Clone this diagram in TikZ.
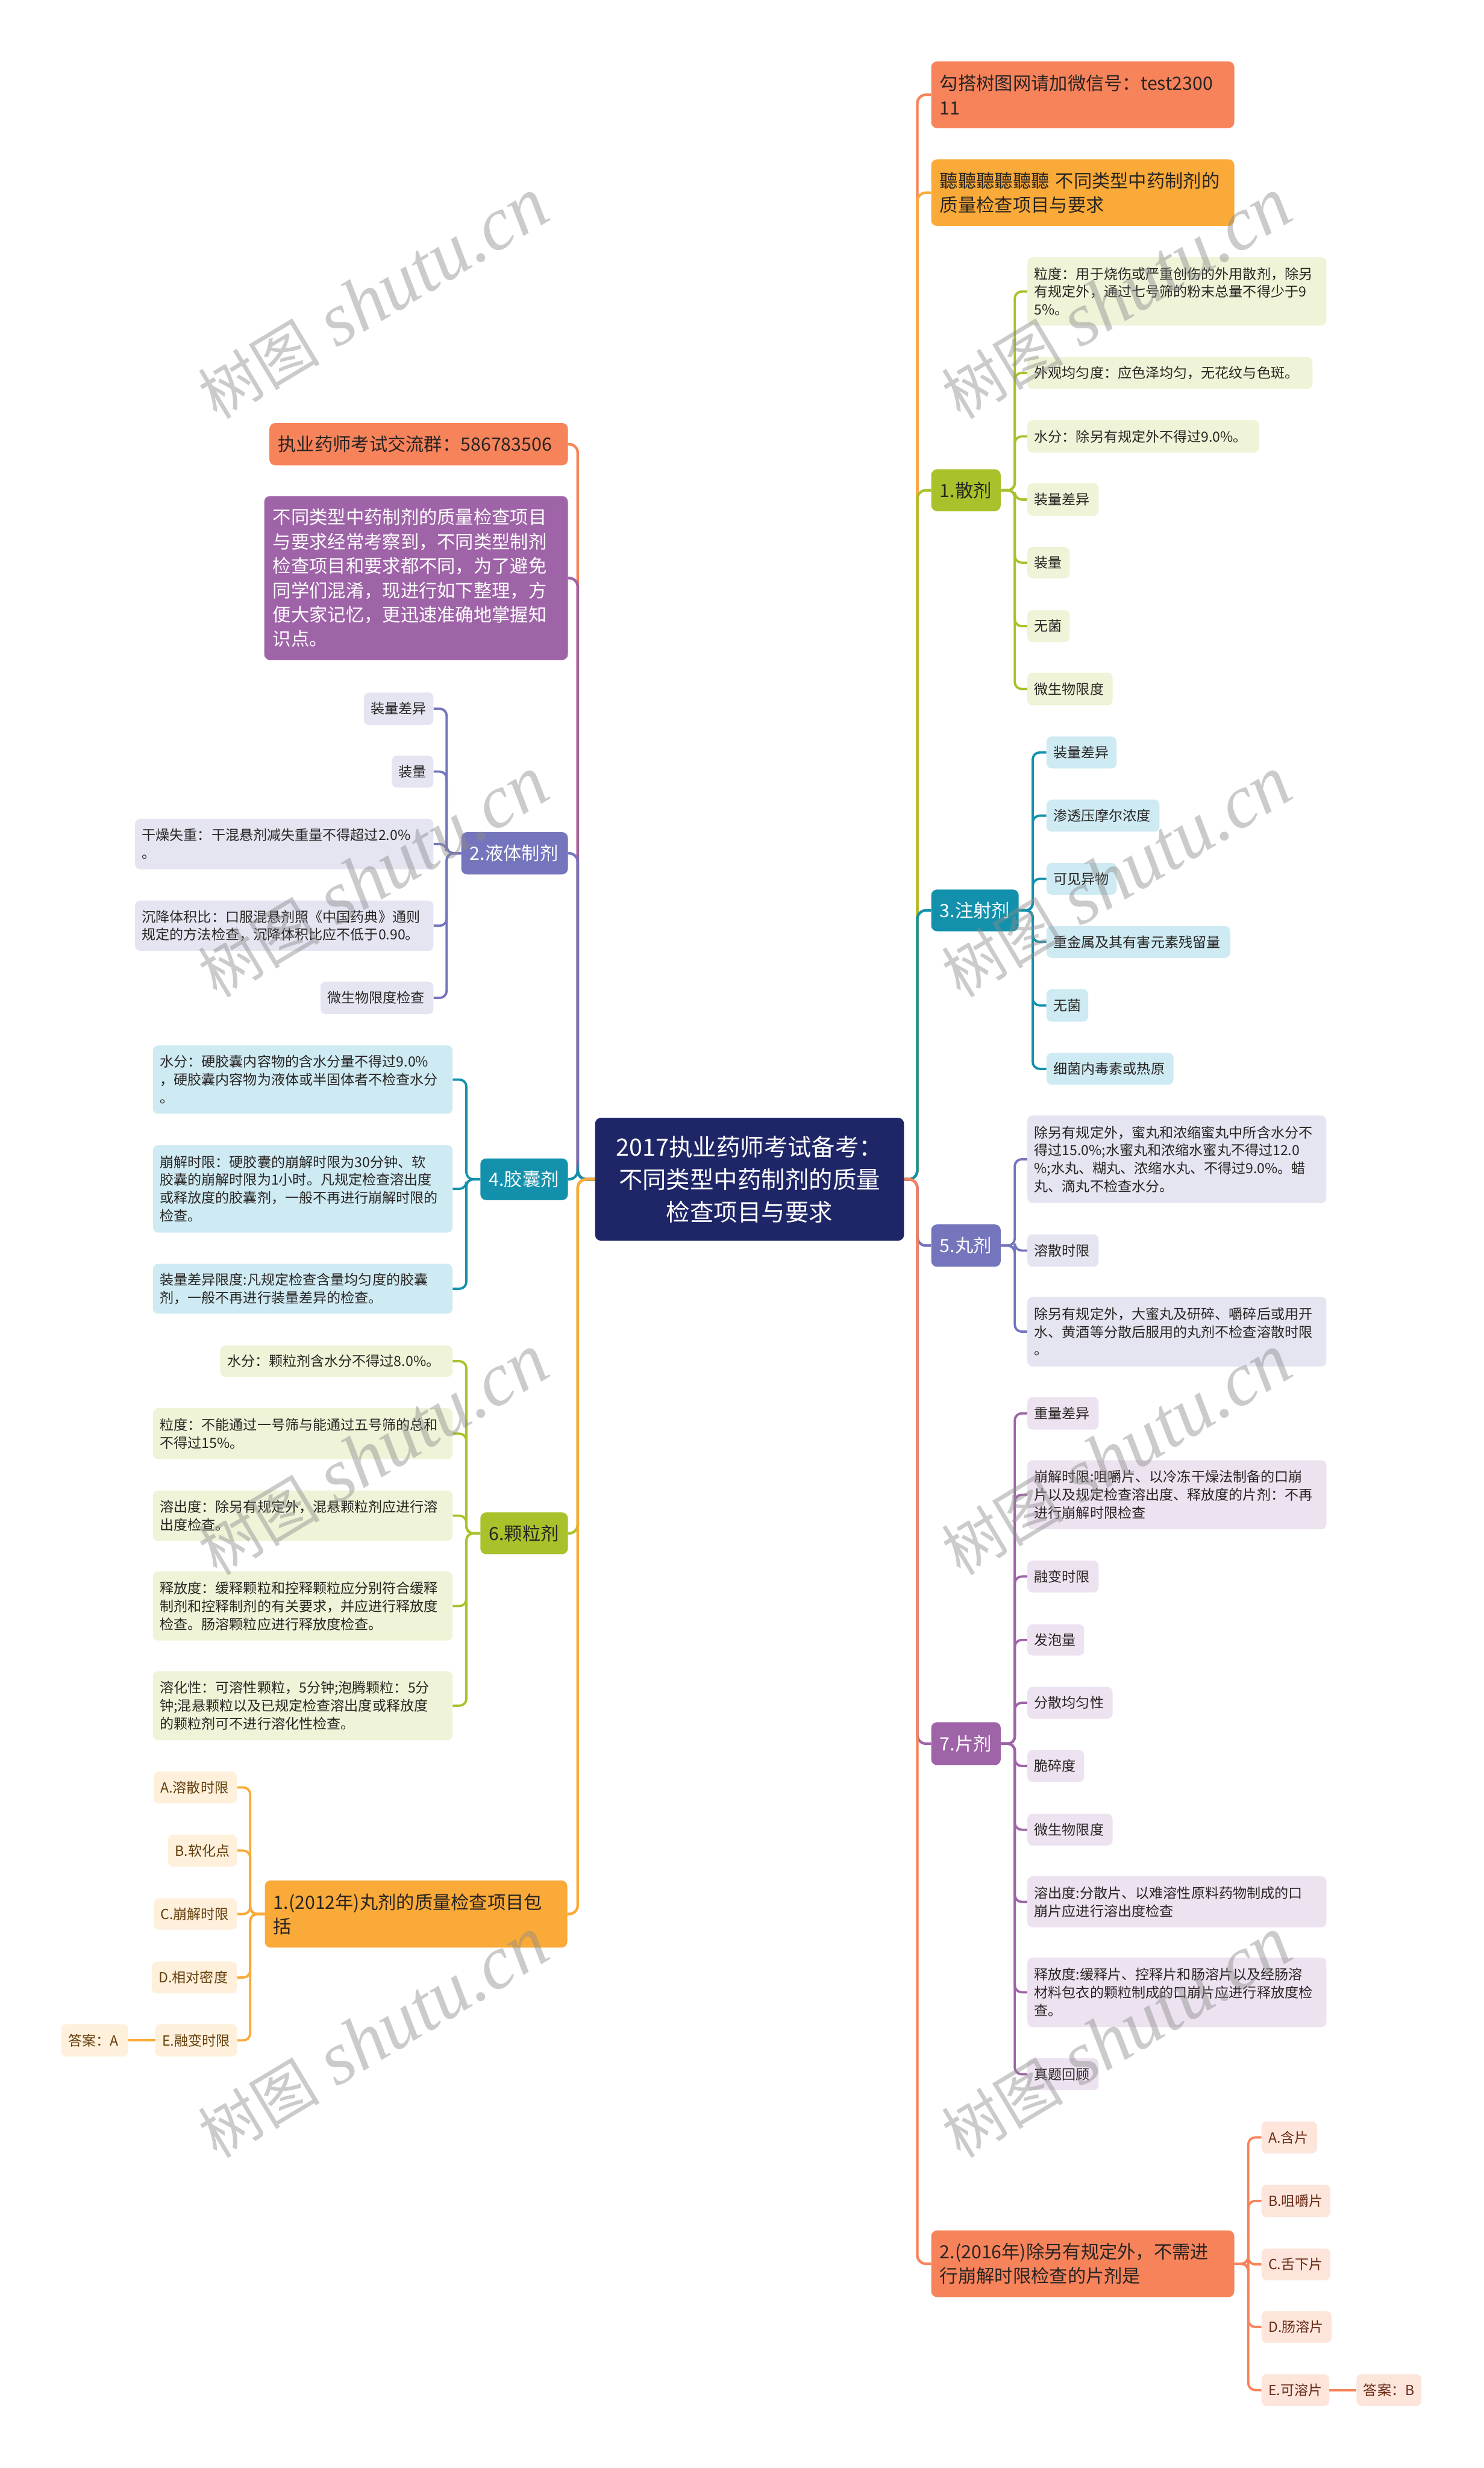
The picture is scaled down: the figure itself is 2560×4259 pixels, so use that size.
\documentclass[tikz,border=0pt]{standalone}
\usepackage{fontspec}
\setmainfont{Noto Sans CJK SC}
\newfontfamily\wmlat{Liberation Serif}
\usetikzlibrary{calc}
\definecolor{cSalmon}{RGB}{247,131,91}
\definecolor{cAmber}{RGB}{250,170,56}
\definecolor{cGreen}{RGB}{169,194,43}
\definecolor{cTeal}{RGB}{19,145,172}
\definecolor{cPeri}{RGB}{117,117,189}
\definecolor{cPurple}{RGB}{159,99,168}
\definecolor{cNavy}{RGB}{31,38,104}
\definecolor{fGreen}{RGB}{239,243,215}
\definecolor{fTeal}{RGB}{206,234,243}
\definecolor{fPeri}{RGB}{229,229,242}
\definecolor{fPurple}{RGB}{237,226,240}
\definecolor{fSalmon}{RGB}{253,229,219}
\definecolor{fAmber}{RGB}{254,240,219}
\definecolor{tDark}{RGB}{40,36,34}
\definecolor{tBrownS}{RGB}{105,42,22}
\definecolor{tBrownA}{RGB}{100,62,12}
\pgfdeclarelayer{bg}\pgfdeclarelayer{fg}\pgfsetlayers{bg,main,fg}
\newcommand\mkbox[8]{%
 \pgfmathsetmacro\bw{#5-#3}%
 \pgfmathsetmacro\bh{#6-#4}%
 \pgfmathsetmacro\btw{#5-#3-2*#1}%
 \pgfmathsetmacro\bcx{(#3+#5)/2}%
 \pgfmathsetmacro\bcy{(#4+#6)/2}%
 \node[#7, inner xsep=#1pt, inner ysep=0pt, minimum width=\bw pt, minimum height=\bh pt, text width=\btw pt] (#2) at (\bcx,\bcy) {#8};}
\begin{document}
\begin{tikzpicture}[x=1pt,y=-1pt,
 big/.style={rounded corners=10pt, align=left, font=\fontsize{31.5}{42}\selectfont},
 leaf/.style={rounded corners=9pt, align=left, font=\fontsize{24}{31}\selectfont, text=tDark},
 cn/.style={draw=#1, line width=4.5pt, rounded corners=15pt},
 sb/.style={draw=#1, line width=4pt, rounded corners=12pt},
 wm/.style={text=black!45, text opacity=0.45, inner sep=0pt}]
\useasboundingbox (0,0) rectangle (2560,4259);
% centre
\mkbox{5}{C}{1027}{1929}{1560}{2141}{rounded corners=10pt, fill=cNavy, text=white, align=center, font=\fontsize{41}{56}\selectfont}{2017执业药师考试备考：\\不同类型中药制剂的质量\\检查项目与要求}
% right main
\mkbox{15}{R1}{1607}{106}{2130}{221}{big, fill=cSalmon, text=tDark}{勾搭树图网请加微信号：test2300\\11}
\mkbox{15}{R2}{1607}{275}{2130}{390}{big, fill=cAmber, text=tDark}{聽聽聽聽聽聽 不同类型中药制剂的\\质量检查项目与要求}
\mkbox{15}{R3}{1607}{810}{1727}{882}{big, fill=cGreen, text=tDark}{1.散剂}
\mkbox{15}{R4}{1607}{1535}{1758}{1607}{big, fill=cTeal, text=white}{3.注射剂}
\mkbox{15}{R5}{1607}{2113}{1727}{2186}{big, fill=cPeri, text=white}{5.丸剂}
\mkbox{15}{R6}{1607}{2972}{1727}{3046}{big, fill=cPurple, text=white}{7.片剂}
\mkbox{15}{R7}{1607}{3849}{2130}{3964}{big, fill=cSalmon, text=tDark}{2.(2016年)除另有规定外，不需进\\行崩解时限检查的片剂是}
% R3 leaves
\mkbox{12}{R3a}{1773}{444}{2289}{562}{leaf, fill=fGreen}{粒度：用于烧伤或严重创伤的外用散剂，除另\\有规定外，通过七号筛的粉末总量不得少于9\\5\%。}
\mkbox{12}{R3b}{1773}{616}{2265}{671}{leaf, fill=fGreen}{外观均匀度：应色泽均匀，无花纹与色斑。}
\mkbox{12}{R3c}{1773}{725}{2173}{781}{leaf, fill=fGreen}{水分：除另有规定外不得过9.0\%。}
\mkbox{12}{R3d}{1773}{834}{1896}{890}{leaf, fill=fGreen}{装量差异}
\mkbox{12}{R3e}{1773}{944}{1846}{998}{leaf, fill=fGreen}{装量}
\mkbox{12}{R3f}{1773}{1053}{1846}{1108}{leaf, fill=fGreen}{无菌}
\mkbox{12}{R3g}{1773}{1161}{1920}{1217}{leaf, fill=fGreen}{微生物限度}
% R4 leaves
\mkbox{12}{R4a}{1806}{1271}{1927}{1326}{leaf, fill=fTeal}{装量差异}
\mkbox{12}{R4b}{1806}{1380}{2001}{1435}{leaf, fill=fTeal}{渗透压摩尔浓度}
\mkbox{12}{R4c}{1806}{1489}{1927}{1544}{leaf, fill=fTeal}{可见异物}
\mkbox{12}{R4d}{1806}{1598}{2123}{1653}{leaf, fill=fTeal}{重金属及其有害元素残留量}
\mkbox{12}{R4e}{1806}{1707}{1878}{1763}{leaf, fill=fTeal}{无菌}
\mkbox{12}{R4f}{1806}{1817}{2025}{1872}{leaf, fill=fTeal}{细菌内毒素或热原}
% R5 leaves
\mkbox{12}{R5a}{1773}{1925}{2289}{2076}{leaf, fill=fPeri}{除另有规定外，蜜丸和浓缩蜜丸中所含水分不\\得过15.0\%;水蜜丸和浓缩水蜜丸不得过12.0\\\%;水丸、糊丸、浓缩水丸、不得过9.0\%。蜡\\丸、滴丸不检查水分。}
\mkbox{12}{R5b}{1773}{2130}{1896}{2186}{leaf, fill=fPeri}{溶散时限}
\mkbox{12}{R5c}{1773}{2238}{2289}{2358}{leaf, fill=fPeri}{除另有规定外，大蜜丸及研碎、嚼碎后或用开\\水、黄酒等分散后服用的丸剂不检查溶散时限\\。}
% R6 leaves
\mkbox{12}{R6a}{1773}{2411}{1896}{2467}{leaf, fill=fPurple}{重量差异}
\mkbox{12}{R6b}{1773}{2520}{2289}{2639}{leaf, fill=fPurple}{崩解时限:咀嚼片、以冷冻干燥法制备的口崩\\片以及规定检查溶出度、释放度的片剂：不再\\进行崩解时限检查}
\mkbox{12}{R6c}{1773}{2693}{1896}{2748}{leaf, fill=fPurple}{融变时限}
\mkbox{12}{R6d}{1773}{2803}{1871}{2857}{leaf, fill=fPurple}{发泡量}
\mkbox{12}{R6e}{1773}{2911}{1920}{2966}{leaf, fill=fPurple}{分散均匀性}
\mkbox{12}{R6f}{1773}{3020}{1871}{3075}{leaf, fill=fPurple}{脆碎度}
\mkbox{12}{R6g}{1773}{3130}{1920}{3185}{leaf, fill=fPurple}{微生物限度}
\mkbox{12}{R6h}{1773}{3238}{2289}{3326}{leaf, fill=fPurple}{溶出度:分散片、以难溶性原料药物制成的口\\崩片应进行溶出度检查}
\mkbox{12}{R6i}{1773}{3378}{2289}{3498}{leaf, fill=fPurple}{释放度:缓释片、控释片和肠溶片以及经肠溶\\材料包衣的颗粒制成的口崩片应进行释放度检\\查。}
\mkbox{12}{R6j}{1773}{3552}{1896}{3607}{leaf, fill=fPurple}{真题回顾}
% R7 options
\mkbox{12}{R7a}{2177}{3661}{2273}{3716}{leaf, fill=fSalmon, text=tBrownS}{A.含片}
\mkbox{12}{R7b}{2177}{3770}{2296}{3826}{leaf, fill=fSalmon, text=tBrownS}{B.咀嚼片}
\mkbox{12}{R7c}{2177}{3880}{2296}{3935}{leaf, fill=fSalmon, text=tBrownS}{C.舌下片}
\mkbox{12}{R7d}{2177}{3988}{2298}{4043}{leaf, fill=fSalmon, text=tBrownS}{D.肠溶片}
\mkbox{12}{R7e}{2177}{4097}{2294}{4152}{leaf, fill=fSalmon, text=tBrownS}{E.可溶片}
\mkbox{12}{R7x}{2341}{4097}{2453}{4152}{leaf, fill=fSalmon, text=tBrownS}{答案：B}
% left main
\mkbox{15}{L1}{465}{730}{980}{803}{big, fill=cSalmon, text=tDark}{执业药师考试交流群：586783506}
\mkbox{15}{L2}{456}{856}{980}{1139}{big, fill=cPurple, text=white}{不同类型中药制剂的质量检查项目\\与要求经常考察到，不同类型制剂\\检查项目和要求都不同，为了避免\\同学们混淆，现进行如下整理，方\\便大家记忆，更迅速准确地掌握知\\识点。}
\mkbox{15}{L3}{796}{1436}{980}{1509}{big, fill=cPeri, text=white}{2.液体制剂}
\mkbox{15}{L4}{829}{1999}{980}{2071}{big, fill=cTeal, text=white}{4.胶囊剂}
\mkbox{15}{L5}{829}{2610}{980}{2682}{big, fill=cGreen, text=tDark}{6.颗粒剂}
\mkbox{15}{L6}{457}{3245}{979}{3361}{big, fill=cAmber, text=tDark}{1.(2012年)丸剂的质量检查项目包\\括}
% L3 leaves
\mkbox{12}{L3a}{628}{1195}{748}{1251}{leaf, fill=fPeri}{装量差异}
\mkbox{12}{L3b}{676}{1304}{748}{1359}{leaf, fill=fPeri}{装量}
\mkbox{12}{L3c}{233}{1413}{748}{1500}{leaf, fill=fPeri}{干燥失重：干混悬剂减失重量不得超过2.0\%\\。}
\mkbox{12}{L3d}{233}{1554}{748}{1641}{leaf, fill=fPeri}{沉降体积比：口服混悬剂照《中国药典》通则\\规定的方法检查，沉降体积比应不低于0.90。}
\mkbox{12}{L3e}{553}{1694}{748}{1750}{leaf, fill=fPeri}{微生物限度检查}
% L4 leaves
\mkbox{12}{L4a}{264}{1804}{781}{1922}{leaf, fill=fTeal}{水分：硬胶囊内容物的含水分量不得过9.0\%\\，硬胶囊内容物为液体或半固体者不检查水分\\。}
\mkbox{12}{L4b}{264}{1976}{781}{2127}{leaf, fill=fTeal}{崩解时限：硬胶囊的崩解时限为30分钟、软\\胶囊的崩解时限为1小时。凡规定检查溶出度\\或释放度的胶囊剂，一般不再进行崩解时限的\\检查。}
\mkbox{12}{L4c}{264}{2181}{781}{2267}{leaf, fill=fTeal}{装量差异限度:凡规定检查含量均匀度的胶囊\\剂，一般不再进行装量差异的检查。}
% L5 leaves
\mkbox{12}{L5a}{380}{2322}{781}{2376}{leaf, fill=fGreen}{水分：颗粒剂含水分不得过8.0\%。}
\mkbox{12}{L5b}{264}{2430}{781}{2518}{leaf, fill=fGreen}{粒度：不能通过一号筛与能通过五号筛的总和\\不得过15\%。}
\mkbox{12}{L5c}{264}{2572}{781}{2659}{leaf, fill=fGreen}{溶出度：除另有规定外，混悬颗粒剂应进行溶\\出度检查。}
\mkbox{12}{L5d}{264}{2712}{781}{2831}{leaf, fill=fGreen}{释放度：缓释颗粒和控释颗粒应分别符合缓释\\制剂和控释制剂的有关要求，并应进行释放度\\检查。肠溶颗粒应进行释放度检查。}
\mkbox{12}{L5e}{264}{2884}{781}{3003}{leaf, fill=fGreen}{溶化性：可溶性颗粒，5分钟;泡腾颗粒：5分\\钟;混悬颗粒以及已规定检查溶出度或释放度\\的颗粒剂可不进行溶化性检查。}
% L6 options
\mkbox{12}{L6a}{265}{3057}{409}{3112}{leaf, fill=fAmber, text=tBrownA}{A.溶散时限}
\mkbox{12}{L6b}{290}{3166}{409}{3221}{leaf, fill=fAmber, text=tBrownA}{B.软化点}
\mkbox{12}{L6c}{265}{3276}{409}{3330}{leaf, fill=fAmber, text=tBrownA}{C.崩解时限}
\mkbox{12}{L6d}{262}{3385}{409}{3440}{leaf, fill=fAmber, text=tBrownA}{D.相对密度}
\mkbox{12}{L6e}{268}{3493}{409}{3549}{leaf, fill=fAmber, text=tBrownA}{E.融变时限}
\mkbox{12}{L6x}{106}{3493}{221}{3549}{leaf, fill=fAmber, text=tBrownA}{答案：A}
% connectors
\begin{pgfonlayer}{bg}
\fill[white] (0,0) rectangle (2560,4259);
\coordinate (RT) at (1583,2035);
\coordinate (LT) at (997,2035);
\draw[cn=cSalmon] (C.east) -- (RT) |- (R1.west);
\draw[cn=cAmber] (C.east) -- (RT) |- (R2.west);
\draw[cn=cGreen] (C.east) -- (RT) |- (R3.west);
\draw[cn=cTeal] (C.east) -- (RT) |- (R4.west);
\draw[cn=cPeri] (C.east) -- (RT) |- (R5.west);
\draw[cn=cPurple] (C.east) -- (RT) |- (R6.west);
\draw[cn=cSalmon] (C.east) -- (RT) |- (R7.west);
\draw[cn=cSalmon] (C.west) -- (LT) |- (L1.east);
\draw[cn=cPurple] (C.west) -- (LT) |- (L2.east);
\draw[cn=cPeri] (C.west) -- (LT) |- (L3.east);
\draw[cn=cTeal] (C.west) -- (LT) |- (L4.east);
\draw[cn=cGreen] (C.west) -- (LT) |- (L5.east);
\draw[cn=cAmber] (C.west) -- (LT) |- (L6.east);
\foreach \n in {a,b,c,d,e,f,g} \draw[sb=cGreen] (R3.east) -- ++(24,0) |- (R3\n.west);
\foreach \n in {a,b,c,d,e,f} \draw[sb=cTeal] (R4.east) -- ++(24,0) |- (R4\n.west);
\foreach \n in {a,b,c} \draw[sb=cPeri] (R5.east) -- ++(24,0) |- (R5\n.west);
\foreach \n in {a,b,c,d,e,f,g,h,i,j} \draw[sb=cPurple] (R6.east) -- ++(24,0) |- (R6\n.west);
\foreach \n in {a,b,c,d,e} \draw[sb=cSalmon] (R7.east) -- ++(24,0) |- (R7\n.west);
\draw[sb=cSalmon] (R7e.east) -- (R7x.west);
\foreach \n in {a,b,c,d,e} \draw[sb=cPeri] (L3.west) -- ++(-25,0) |- (L3\n.east);
\foreach \n in {a,b,c} \draw[sb=cTeal] (L4.west) -- ++(-24,0) |- (L4\n.east);
\foreach \n in {a,b,c,d,e} \draw[sb=cGreen] (L5.west) -- ++(-24,0) |- (L5\n.east);
\foreach \n in {a,b,c,d,e} \draw[sb=cAmber] (L6.west) -- ++(-25,0) |- (L6\n.east);
\draw[sb=cAmber] (L6e.west) -- (L6x.east);
\end{pgfonlayer}
% watermarks
\begin{pgfonlayer}{fg}
\foreach \i/\wx/\wy in {1/644/516, 2/1927/516, 3/644/1514, 4/1927/1514, 5/644/2511, 6/1927/2511, 7/644/3517, 8/1927/3517}
  \node[wm, rotate=31] (wm\i) at (\wx,\wy) {\fontsize{105}{110}\selectfont 树图\hspace{30pt}{\wmlat\itshape\fontsize{130}{130}\selectfont shutu.cn}};
\end{pgfonlayer}
\end{tikzpicture}
\end{document}
